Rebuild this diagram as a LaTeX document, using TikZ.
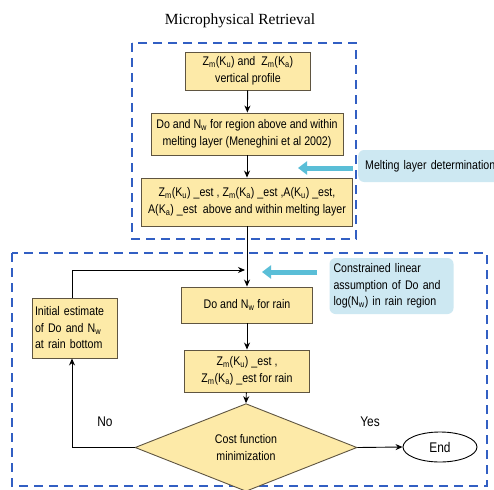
\documentclass[tikz,border=0pt]{standalone}
\usepackage{fontspec}
\setmainfont{Liberation Sans}
\newfontfamily\boxfont[FakeStretch=0.85]{Liberation Sans}
\newfontfamily\titlefont{Liberation Serif}
\usetikzlibrary{shapes.geometric,arrows.meta}
\definecolor{boxfill}{RGB}{253,234,168}
\definecolor{boxdraw}{RGB}{95,85,65}
\definecolor{dashblue}{RGB}{50,95,195}
\definecolor{lightblue}{RGB}{205,232,242}
\definecolor{arrowcyan}{RGB}{90,190,215}
\newcommand{\sbx}[1]{\textsubscript{#1}}
\tikzset{
  ybox/.style={draw=boxdraw, fill=boxfill, line width=0.9pt, align=center, inner sep=2pt, font=\boxfont\fontsize{12.5}{16.5}\selectfont},
  lbox/.style={ybox, align=left},
  bluebox/.style={fill=lightblue, rounded corners=6pt, align=left, inner sep=4pt, font=\boxfont\fontsize{12.5}{16.5}\selectfont},
  region/.style={draw=dashblue, line width=2.4pt, dash pattern=on 9pt off 6pt},
  flow/.style={draw=black, line width=0.9pt, -{Stealth[length=7pt,width=6pt]}},
  fat/.style={draw=arrowcyan, line width=5pt, -{Triangle[length=9pt,width=13pt]}},
  lab/.style={font=\boxfont\fontsize{14}{16}\selectfont}
}
\begin{document}
\begin{tikzpicture}[x=1pt,y=-1pt]
\useasboundingbox (0,0) rectangle (494,489);
\fill[white] (0,0) rectangle (494,489);
% regions
\draw[region] (132,43) rectangle (356,239);
\draw[region] (12,253) rectangle (487,486);
\node[font=\titlefont\fontsize{15.5}{17}\selectfont] (title) at (240,21) {Microphysical Retrieval};
% side notes
\node[bluebox, anchor=west, minimum height=32pt, text width=150pt] (melt) at (358,166) {\hspace*{3pt}Melting layer determination};
\node[bluebox, minimum width=123pt, minimum height=56pt, text width=116pt] (cons) at (391.5,286) {Constrained linear\\assumption of Do and\\log(N\sbx{w}) in rain region};
% boxes
\node[ybox, minimum width=125pt, minimum height=38pt] (b1) at (248,71) {Z\sbx{m}(K\sbx{u}) and\ \ Z\sbx{m}(K\sbx{a})\\vertical profile};
\node[ybox, minimum width=192pt, minimum height=42pt] (b2) at (247,134) {Do and N\sbx{w} for region above and within\\melting layer (Meneghini et al 2002)};
\node[ybox, minimum width=211pt, minimum height=48pt] (b3) at (247,202) {Z\sbx{m}(K\sbx{u}) \_est , Z\sbx{m}(K\sbx{a}) \_est ,A(K\sbx{u}) \_est,\\A(K\sbx{a}) \_est\ \ above and within melting layer};
\node[ybox, minimum width=131pt, minimum height=36pt] (rain) at (247,305) {Do and N\sbx{w} for rain};
\node[ybox, minimum width=125pt, minimum height=42pt] (est) at (247,371) {Z\sbx{m}(K\sbx{u}) \_est ,\\Z\sbx{m}(K\sbx{a}) \_est for rain};
\node[lbox, minimum width=85pt, minimum height=60pt, text width=79pt] (init) at (74.5,328) {Initial estimate\\of Do and N\sbx{w}\\at rain bottom};
\node[ybox, diamond, inner sep=0pt, minimum width=222pt, minimum height=69pt] (cost) at (246,447.5) {Cost function\\minimization};
\node[draw=black, line width=0.9pt, ellipse, minimum width=74pt, minimum height=30pt, inner sep=0pt, font=\boxfont\fontsize{14}{16}\selectfont] (end) at (440,447) {End};
\node[lab] (no) at (105,422) {No};
\node[lab] (yes) at (370,422) {Yes};
% coordinates
\coordinate (join) at (247,270);
\coordinate (corner) at (72,270);
\coordinate (nocorner) at (72,447.5);
\coordinate (m1) at (353,168);
\coordinate (m2) at (298,168);
\coordinate (c1) at (317,272);
\coordinate (c2) at (262,272);
% connectors
\draw[flow] (b1) -- (b2);
\draw[flow] (b2) -- (b3);
\draw[flow] (b3) -- (rain);
\draw[flow] (rain) -- (est);
\draw[flow] (est) -- (cost.north);
\draw[flow] (init.north -| corner) -- (corner) -- ([xshift=-2pt]join);
\draw[flow] (cost.west) -- (nocorner) -- (init.south -| nocorner);
\draw[flow] (cost.east) -- (end.west);
\draw[fat] (m1) -- (m2);
\draw[fat] (c1) -- (c2);
\end{tikzpicture}
\end{document}
